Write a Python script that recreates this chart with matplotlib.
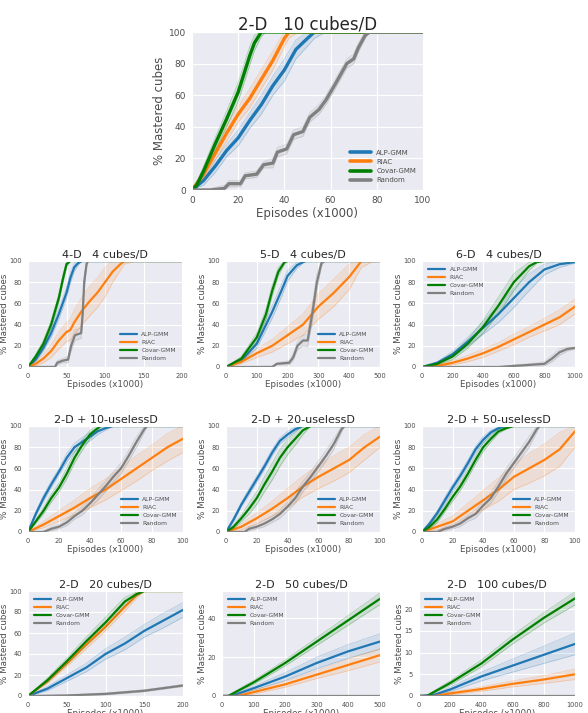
import matplotlib
matplotlib.use("Agg")
import matplotlib.pyplot as plt
import seaborn as sns

# each series: (episodes x1000, mean % mastered, spread of the seeds)
# 2-D 10 cubes/D
alp_a = [(0, 0, 0), (5, 6, 3), (10, 15, 4), (15, 25, 4), (20, 33, 5), (25, 44, 5), (30, 54, 6), (35, 66, 6),
         (40, 76, 7), (45, 89, 6), (50, 96, 5), (53, 100, 4), (58, 100, 0), (100, 100, 0)]
riac_a = [(0, 0, 0), (5, 10, 3), (10, 23, 4), (15, 36, 5), (20, 48, 5), (25, 58, 6), (30, 70, 6), (35, 82, 6),
          (40, 96, 5), (42, 100, 4), (46, 100, 0), (100, 100, 0)]
covar_a = [(0, 0, 0), (2, 3, 2), (5, 12, 3), (10, 29, 4), (15, 45, 5), (20, 62, 6), (25, 85, 6), (27, 93, 5),
           (30, 100, 3), (32, 100, 0), (100, 100, 0)]
rand_a = [(0, 0, 0), (8, 0, 1), (14, 1, 2), (16, 4, 2), (21, 4, 2), (23, 9, 2), (28, 10, 2), (31, 16, 2),
          (35, 17, 3), (37, 24, 3), (41, 26, 3), (44, 35, 3), (48, 37, 3), (51, 46, 3), (55, 51, 3),
          (58, 57, 3), (62, 67, 3), (67, 80, 3), (70, 83, 3), (72, 90, 3), (75, 98, 2), (77, 100, 0), (100, 100, 0)]

# 4-D 4 cubes/D
alp_b = [(0, 0, 0), (10, 7, 2), (20, 18, 3), (30, 32, 4), (40, 50, 5), (50, 70, 5), (55, 84, 5), (60, 94, 4),
         (65, 98, 2), (70, 100, 0), (200, 100, 0)]
riac_b = [(0, 0, 0), (10, 3, 2), (20, 8, 4), (30, 15, 6), (40, 25, 8), (50, 33, 9), (55, 35, 10), (60, 42, 12),
          (70, 53, 13), (80, 62, 14), (90, 70, 14), (100, 80, 14), (110, 90, 10), (120, 97, 6), (125, 100, 3),
          (140, 100, 0), (200, 100, 0)]
covar_b = [(0, 0, 0), (10, 10, 2), (20, 22, 3), (30, 40, 4), (40, 65, 4), (45, 82, 4), (50, 97, 3), (55, 100, 0),
           (200, 100, 0)]
rand_b = [(0, 0, 0), (35, 0, 1), (38, 4, 2), (45, 6, 2), (52, 7, 3), (56, 20, 5), (61, 30, 5), (69, 32, 5),
          (71, 50, 6), (73, 80, 6), (76, 97, 3), (78, 100, 0), (200, 100, 0)]

# 5-D 4 cubes/D
alp_c = [(0, 0, 0), (50, 6, 2), (100, 22, 4), (150, 52, 6), (180, 72, 6), (200, 86, 5), (230, 96, 3),
         (250, 99, 1), (260, 100, 0), (500, 100, 0)]
riac_c = [(0, 0, 0), (50, 5, 2), (100, 13, 4), (150, 20, 6), (200, 30, 8), (250, 40, 10), (300, 57, 12),
          (350, 70, 13), (400, 85, 12), (440, 100, 6), (480, 100, 0), (500, 100, 0)]
covar_c = [(0, 0, 0), (50, 8, 2), (100, 28, 4), (130, 50, 5), (150, 72, 5), (170, 90, 4), (190, 99, 2),
           (200, 100, 0), (500, 100, 0)]
rand_c = [(0, 0, 0), (150, 0, 1), (165, 3, 1), (205, 4, 2), (218, 9, 3), (232, 20, 4), (250, 25, 5),
          (265, 25, 6), (280, 50, 8), (295, 80, 8), (310, 98, 3), (320, 100, 0), (500, 100, 0)]

# 6-D 4 cubes/D
alp_d = [(0, 0, 0), (100, 4, 1), (200, 12, 3), (300, 24, 4), (400, 37, 6), (500, 50, 8), (600, 65, 9),
         (700, 80, 8), (800, 92, 5), (900, 97, 3), (1000, 99, 1)]
riac_d = [(0, 0, 0), (100, 1, 1), (200, 4, 2), (300, 8, 3), (400, 13, 4), (500, 19, 4), (600, 26, 5),
          (700, 33, 5), (800, 40, 6), (900, 47, 7), (1000, 57, 7)]
covar_d = [(0, 0, 0), (100, 3, 1), (200, 10, 3), (300, 22, 4), (400, 38, 6), (500, 58, 8), (600, 80, 8),
           (700, 95, 4), (750, 99, 1), (800, 100, 0), (1000, 100, 0)]
rand_d = [(0, 0, 0), (500, 0, 0), (600, 1, 1), (700, 2, 1), (800, 3, 2), (850, 8, 3), (900, 14, 3),
          (950, 17, 2), (1000, 18, 1)]

# 2-D + 10-uselessD
alp_e = [(0, 0, 0), (5, 17, 2), (10, 32, 3), (15, 45, 3), (20, 57, 3), (25, 70, 4), (30, 80, 4), (35, 85, 4),
         (40, 90, 4), (45, 95, 3), (50, 98, 2), (55, 100, 0), (100, 100, 0)]
riac_e = [(0, 0, 0), (10, 7, 3), (20, 15, 5), (30, 23, 7), (40, 32, 9), (50, 40, 10), (60, 50, 11),
          (70, 60, 12), (80, 70, 12), (90, 80, 13), (100, 88, 13)]
covar_e = [(0, 0, 0), (5, 10, 2), (10, 20, 3), (15, 32, 4), (20, 42, 4), (25, 55, 5), (30, 70, 5), (35, 82, 5),
           (40, 92, 4), (45, 98, 2), (47, 100, 0), (100, 100, 0)]
rand_e = [(0, 0, 0), (10, 0, 1), (15, 3, 2), (20, 5, 2), (25, 9, 3), (30, 15, 3), (35, 20, 4), (40, 27, 4),
          (45, 35, 5), (50, 43, 5), (55, 52, 5), (60, 60, 5), (65, 72, 5), (70, 85, 5), (75, 97, 3),
          (77, 100, 0), (100, 100, 0)]

# 2-D + 20-uselessD
alp_f = [(0, 0, 0), (5, 12, 2), (10, 26, 2), (15, 38, 3), (20, 50, 3), (25, 62, 3), (30, 75, 3), (35, 86, 3),
         (40, 92, 3), (45, 97, 2), (50, 100, 0), (100, 100, 0)]
riac_f = [(0, 0, 0), (10, 5, 3), (20, 13, 5), (30, 22, 7), (40, 32, 9), (50, 43, 10), (60, 52, 11),
          (70, 60, 12), (80, 68, 12), (90, 80, 12), (100, 90, 10)]
covar_f = [(0, 0, 0), (5, 5, 2), (10, 13, 3), (15, 22, 5), (20, 32, 6), (25, 45, 7), (30, 57, 8), (35, 70, 8),
           (40, 80, 7), (45, 88, 6), (50, 96, 4), (55, 100, 0), (100, 100, 0)]
rand_f = [(0, 0, 0), (12, 0, 1), (15, 3, 2), (20, 5, 2), (25, 8, 3), (30, 12, 3), (35, 17, 4), (40, 24, 4),
          (45, 32, 5), (50, 43, 5), (55, 52, 5), (60, 62, 5), (65, 72, 5), (70, 83, 5), (75, 97, 3),
          (77, 100, 0), (100, 100, 0)]

# 2-D + 50-uselessD
alp_g = [(0, 0, 0), (5, 8, 2), (10, 18, 2), (15, 30, 3), (20, 42, 3), (25, 53, 3), (30, 65, 3), (35, 78, 3),
         (40, 87, 3), (45, 94, 2), (50, 98, 1), (55, 100, 0), (100, 100, 0)]
riac_g = [(0, 0, 0), (10, 5, 3), (20, 10, 5), (30, 20, 7), (40, 30, 9), (50, 40, 11), (60, 52, 12),
          (70, 60, 14), (80, 68, 15), (90, 78, 16), (100, 95, 15)]
covar_g = [(0, 0, 0), (5, 5, 2), (10, 12, 3), (15, 22, 3), (20, 33, 4), (25, 43, 4), (30, 55, 4), (35, 68, 4),
           (40, 80, 4), (45, 88, 3), (50, 95, 2), (55, 98, 1), (60, 100, 0), (100, 100, 0)]
rand_g = [(0, 0, 0), (10, 0, 1), (15, 3, 2), (20, 5, 2), (25, 8, 3), (30, 13, 3), (35, 17, 4), (40, 25, 4),
          (45, 32, 5), (50, 43, 5), (55, 55, 5), (60, 65, 5), (65, 75, 5), (70, 85, 5), (75, 97, 3),
          (77, 100, 0), (100, 100, 0)]

# 2-D 20 cubes/D
alp_h = [(0, 0, 0), (25, 7, 2), (50, 17, 3), (75, 27, 4), (100, 40, 5), (125, 50, 6), (150, 62, 6),
         (175, 72, 7), (200, 82, 7)]
riac_h = [(0, 0, 0), (25, 14, 2), (50, 31, 3), (75, 49, 4), (100, 66, 4), (125, 85, 4), (140, 96, 3),
          (150, 100, 0), (200, 100, 0)]
covar_h = [(0, 0, 0), (25, 15, 2), (50, 33, 3), (75, 52, 4), (100, 70, 5), (125, 90, 4), (140, 97, 2),
           (150, 100, 0), (200, 100, 0)]
rand_h = [(0, 0, 0), (50, 0.5, 0.5), (100, 2, 1), (150, 5, 1), (200, 10, 1)]

# 2-D 50 cubes/D
alp_i = [(0, 0, 0), (30, 0, 0.5), (100, 4, 1), (200, 10, 2), (300, 17, 3), (400, 23, 3.5), (500, 28, 4)]
riac_i = [(0, 0, 0), (50, 0, 0.5), (100, 2, 1), (200, 6, 1.5), (300, 11, 2), (400, 16, 3), (500, 21, 3.5)]
covar_i = [(0, 0, 0), (20, 0, 0.5), (100, 7, 1), (200, 17, 1.5), (300, 28, 2), (400, 39, 2.5), (500, 50, 3)]
rand_i = [(0, 0, 0), (500, 0, 0)]

# 2-D 100 cubes/D
alp_j = [(0, 0, 0), (100, 0.3, 0.2), (200, 1.5, 0.5), (400, 4.5, 1), (600, 7, 1.5), (800, 9.5, 2), (1000, 12, 2.5)]
riac_j = [(0, 0, 0), (100, 0, 0.1), (200, 0.6, 0.3), (400, 1.6, 0.5), (600, 2.8, 0.7), (800, 3.8, 0.9),
          (1000, 5, 1.2)]
covar_j = [(0, 0, 0), (50, 0, 0.2), (200, 3, 0.5), (400, 7.5, 0.8), (600, 13, 1), (800, 18, 1.2), (1000, 22.5, 1.5)]
rand_j = [(0, 0, 0), (1000, 0, 0)]

labels = ["ALP-GMM", "RIAC", "Covar-GMM", "Random"]
colors = ["#1f77b4", "#ff7f0e", "green", "grey"]

W, H = 588, 713


def box(left, top, right, bottom):
    return [left / W, 1 - bottom / H, (right - left) / W, (bottom - top) / H]


panels = [
    ("2-D   10 cubes/D", [alp_a, riac_a, covar_a, rand_a], (0, 100), (0, 100), [0, 20, 40, 60, 80, 100],
     [0, 20, 40, 60, 80, 100], "lower right", box(192, 32, 423, 190), True),
    ("4-D   4 cubes/D", [alp_b, riac_b, covar_b, rand_b], (0, 200), (0, 100), [0, 50, 100, 150, 200],
     [0, 20, 40, 60, 80, 100], "lower right", box(28, 261, 182, 367), False),
    ("5-D   4 cubes/D", [alp_c, riac_c, covar_c, rand_c], (0, 500), (0, 100), [0, 100, 200, 300, 400, 500],
     [0, 20, 40, 60, 80, 100], "lower right", box(226, 261, 380, 367), False),
    ("6-D   4 cubes/D", [alp_d, riac_d, covar_d, rand_d], (0, 1000), (0, 100), [0, 200, 400, 600, 800, 1000],
     [0, 20, 40, 60, 80, 100], "upper left", box(422, 261, 575, 367), False),
    ("2-D + 10-uselessD", [alp_e, riac_e, covar_e, rand_e], (0, 100), (0, 100), [0, 20, 40, 60, 80, 100],
     [0, 20, 40, 60, 80, 100], "lower right", box(28, 426, 183, 532), False),
    ("2-D + 20-uselessD", [alp_f, riac_f, covar_f, rand_f], (0, 100), (0, 100), [0, 20, 40, 60, 80, 100],
     [0, 20, 40, 60, 80, 100], "lower right", box(226, 426, 380, 532), False),
    ("2-D + 50-uselessD", [alp_g, riac_g, covar_g, rand_g], (0, 100), (0, 100), [0, 20, 40, 60, 80, 100],
     [0, 20, 40, 60, 80, 100], "lower right", box(422, 426, 575, 532), False),
    ("2-D   20 cubes/D", [alp_h, riac_h, covar_h, rand_h], (0, 200), (0, 100), [0, 50, 100, 150, 200],
     [0, 20, 40, 60, 80, 100], "upper left", box(28, 591, 183, 696), False),
    ("2-D   50 cubes/D", [alp_i, riac_i, covar_i, rand_i], (0, 500), (0, 54), [0, 100, 200, 300, 400, 500],
     [0, 20, 40], "upper left", box(222, 591, 380, 696), False),
    ("2-D   100 cubes/D", [alp_j, riac_j, covar_j, rand_j], (0, 1000), (0, 24.2), [0, 200, 400, 600, 800, 1000],
     [0, 5, 10, 15, 20], "upper left", box(419, 591, 575, 696), False),
]

sns.set_style("darkgrid")
fig = plt.figure(figsize=(W / 100, H / 100), dpi=100)

for title, series, xlim, ylim, xticks, yticks, loc, pos, big in panels:
    ax = fig.add_axes(pos)
    lw = 2.4 if big else 1.6
    for data, label, color in zip(series, labels, colors):
        xs = [p[0] for p in data]
        ys = [p[1] for p in data]
        lo = [max(0, p[1] - p[2]) for p in data]
        hi = [min(100, p[1] + p[2]) for p in data]
        ax.fill_between(xs, lo, hi, color=color, alpha=0.12, lw=0)
        ax.plot(xs, lo, color=color, lw=0.5, alpha=0.3)
        ax.plot(xs, hi, color=color, lw=0.5, alpha=0.3)
        ax.plot(xs, ys, color=color, lw=lw, label=label)
    ax.set_xlim(*xlim)
    ax.set_ylim(*ylim)
    ax.set_xticks(xticks)
    ax.set_yticks(yticks)
    ax.tick_params(labelsize=6.5 if big else 4.8, pad=1 if big else 0.8, colors=".3")
    ax.set_xlabel("Episodes (x1000)", fontsize=8.5 if big else 6.3, labelpad=1 if big else 0.5, color=".3")
    ax.set_ylabel("% Mastered cubes", fontsize=8.5 if big else 6.3, labelpad=2 if big else 0.5, color=".3")
    ax.set_title(title, fontsize=12 if big else 8, pad=2, color=".15")
    leg = ax.legend(loc=loc, fontsize=5 if big else 4.3, handlelength=3 if big else 2.8, labelspacing=0.45,
                    borderaxespad=0.6, frameon=False)
    for line in leg.get_lines():
        line.set_linewidth(2.6 if big else 1.6)
    for text in leg.get_texts():
        text.set_color(".3")

fig.savefig("out.png", dpi=100)
